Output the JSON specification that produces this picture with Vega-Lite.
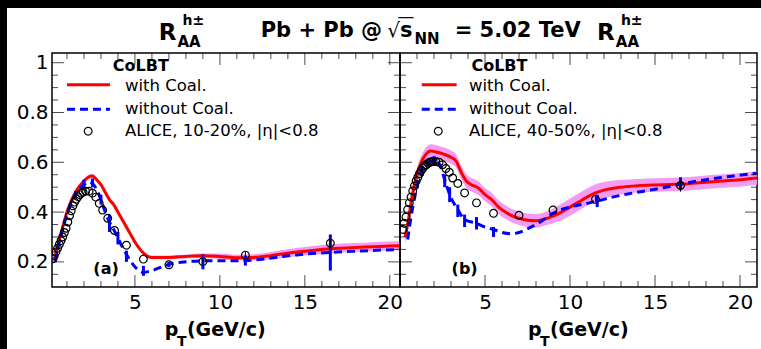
{
"$schema": "https://vega.github.io/schema/vega-lite/v6.json",
"padding": 0,
"background": "white",
"config": {"font": "DejaVu Sans", "text": {"color": "black"}, "axis": {"labelColor": "black", "labelFont": "DejaVu Sans"}},
"datasets": {
"one": [{}],
"xt": [{"v":1},{"v":2},{"v":3},{"v":4},{"v":5},{"v":6},{"v":7},{"v":8},{"v":9},{"v":10},{"v":11},{"v":12},{"v":13},{"v":14},{"v":15},{"v":16},{"v":17},{"v":18},{"v":19},{"v":20}],
"yt": [{"v":0.15},{"v":0.2},{"v":0.25},{"v":0.3},{"v":0.35},{"v":0.4},{"v":0.45},{"v":0.5},{"v":0.55},{"v":0.6},{"v":0.65},{"v":0.7},{"v":0.75},{"v":0.8},{"v":0.85},{"v":0.9},{"v":0.95},{"v":1.0}],
"redA": [{"x":0.25,"y":0.21,"lo":0.202,"hi":0.218},{"x":0.5,"y":0.275,"lo":0.267,"hi":0.283},{"x":0.75,"y":0.34,"lo":0.332,"hi":0.348},{"x":1.0,"y":0.4,"lo":0.392,"hi":0.408},{"x":1.25,"y":0.445,"lo":0.437,"hi":0.453},{"x":1.5,"y":0.48,"lo":0.472,"hi":0.488},{"x":1.75,"y":0.505,"lo":0.497,"hi":0.513},{"x":2.0,"y":0.525,"lo":0.517,"hi":0.533},{"x":2.25,"y":0.54,"lo":0.532,"hi":0.548},{"x":2.5,"y":0.545,"lo":0.537,"hi":0.553},{"x":2.75,"y":0.53,"lo":0.522,"hi":0.538},{"x":3.0,"y":0.51,"lo":0.502,"hi":0.518},{"x":3.25,"y":0.48,"lo":0.472,"hi":0.488},{"x":3.5,"y":0.45,"lo":0.442,"hi":0.458},{"x":3.75,"y":0.43,"lo":0.422,"hi":0.438},{"x":4.0,"y":0.4,"lo":0.392,"hi":0.408},{"x":4.25,"y":0.37,"lo":0.362,"hi":0.378},{"x":4.5,"y":0.34,"lo":0.332,"hi":0.348},{"x":4.75,"y":0.31,"lo":0.302,"hi":0.318},{"x":5.0,"y":0.28,"lo":0.272,"hi":0.288},{"x":5.25,"y":0.255,"lo":0.247,"hi":0.263},{"x":5.5,"y":0.235,"lo":0.227,"hi":0.243},{"x":5.75,"y":0.222,"lo":0.214,"hi":0.23},{"x":6.0,"y":0.218,"lo":0.21,"hi":0.226},{"x":7.0,"y":0.218,"lo":0.21,"hi":0.226},{"x":8.0,"y":0.222,"lo":0.214,"hi":0.23},{"x":9.0,"y":0.225,"lo":0.216,"hi":0.234},{"x":10.0,"y":0.222,"lo":0.21,"hi":0.234},{"x":11.0,"y":0.217,"lo":0.205,"hi":0.229},{"x":12.0,"y":0.218,"lo":0.205,"hi":0.231},{"x":13.0,"y":0.225,"lo":0.21,"hi":0.24},{"x":14.0,"y":0.235,"lo":0.219,"hi":0.251},{"x":15.0,"y":0.243,"lo":0.226,"hi":0.26},{"x":16.0,"y":0.25,"lo":0.232,"hi":0.268},{"x":17.0,"y":0.255,"lo":0.237,"hi":0.273},{"x":18.0,"y":0.258,"lo":0.24,"hi":0.276},{"x":19.0,"y":0.261,"lo":0.243,"hi":0.279},{"x":20.0,"y":0.264,"lo":0.246,"hi":0.282},{"x":20.6,"y":0.265,"lo":0.247,"hi":0.283}],
"blueA": [{"x":0.3,"y":0.2},{"x":0.5,"y":0.265},{"x":0.75,"y":0.33},{"x":1.0,"y":0.39},{"x":1.25,"y":0.435},{"x":1.5,"y":0.47},{"x":1.75,"y":0.495},{"x":2.0,"y":0.51},{"x":2.25,"y":0.52},{"x":2.5,"y":0.515},{"x":2.75,"y":0.49},{"x":3.0,"y":0.45},{"x":3.25,"y":0.4},{"x":3.5,"y":0.36},{"x":3.75,"y":0.33},{"x":4.0,"y":0.295},{"x":4.5,"y":0.23},{"x":5.0,"y":0.18},{"x":5.5,"y":0.158},{"x":6.0,"y":0.165},{"x":7.0,"y":0.19},{"x":8.0,"y":0.2},{"x":9.0,"y":0.204},{"x":10.0,"y":0.204},{"x":11.5,"y":0.205},{"x":13.0,"y":0.215},{"x":14.5,"y":0.228},{"x":16.5,"y":0.238},{"x":18.0,"y":0.243},{"x":20.6,"y":0.25}],
"blueErrA": [{"x":1.5,"lo":0.455,"hi":0.485},{"x":2.0,"lo":0.49,"hi":0.53},{"x":2.5,"lo":0.5,"hi":0.535},{"x":3.0,"lo":0.43,"hi":0.47},{"x":3.5,"lo":0.32,"hi":0.39},{"x":4.0,"lo":0.27,"hi":0.32},{"x":4.5,"lo":0.2,"hi":0.245},{"x":5.5,"lo":0.144,"hi":0.184},{"x":7.0,"lo":0.178,"hi":0.2},{"x":9.0,"lo":0.17,"hi":0.23},{"x":11.5,"lo":0.185,"hi":0.225},{"x":16.5,"lo":0.165,"hi":0.31}],
"aliceA": [{"x":0.175,"y":0.212},{"x":0.25,"y":0.225},{"x":0.35,"y":0.24},{"x":0.45,"y":0.255},{"x":0.55,"y":0.27},{"x":0.65,"y":0.285},{"x":0.75,"y":0.3},{"x":0.85,"y":0.318},{"x":0.95,"y":0.335},{"x":1.05,"y":0.36},{"x":1.15,"y":0.385},{"x":1.25,"y":0.405},{"x":1.35,"y":0.425},{"x":1.45,"y":0.44},{"x":1.55,"y":0.452},{"x":1.65,"y":0.462},{"x":1.75,"y":0.47},{"x":1.85,"y":0.476},{"x":1.95,"y":0.48},{"x":2.1,"y":0.484},{"x":2.3,"y":0.484},{"x":2.5,"y":0.476},{"x":2.7,"y":0.46},{"x":2.9,"y":0.435},{"x":3.1,"y":0.408},{"x":3.4,"y":0.375},{"x":3.8,"y":0.326},{"x":4.5,"y":0.267},{"x":5.5,"y":0.211},{"x":7.0,"y":0.188},{"x":9.0,"y":0.201},{"x":11.5,"y":0.227},{"x":16.5,"y":0.275}],
"aliceErrA": [{"x":9.0,"lo":0.19,"hi":0.212},{"x":11.5,"lo":0.215,"hi":0.24},{"x":16.5,"lo":0.255,"hi":0.295}],
"redB": [{"x":0.3,"y":0.3,"lo":0.273,"hi":0.327},{"x":0.5,"y":0.37,"lo":0.343,"hi":0.397},{"x":0.7,"y":0.46,"lo":0.433,"hi":0.487},{"x":1.0,"y":0.55,"lo":0.523,"hi":0.577},{"x":1.25,"y":0.6,"lo":0.573,"hi":0.627},{"x":1.5,"y":0.63,"lo":0.603,"hi":0.657},{"x":1.8,"y":0.645,"lo":0.618,"hi":0.672},{"x":2.2,"y":0.64,"lo":0.613,"hi":0.667},{"x":2.6,"y":0.632,"lo":0.605,"hi":0.659},{"x":3.0,"y":0.62,"lo":0.593,"hi":0.647},{"x":3.3,"y":0.605,"lo":0.578,"hi":0.632},{"x":3.6,"y":0.56,"lo":0.533,"hi":0.587},{"x":3.9,"y":0.525,"lo":0.498,"hi":0.552},{"x":4.2,"y":0.51,"lo":0.483,"hi":0.537},{"x":4.6,"y":0.497,"lo":0.47,"hi":0.524},{"x":5.0,"y":0.47,"lo":0.443,"hi":0.497},{"x":5.4,"y":0.45,"lo":0.423,"hi":0.477},{"x":5.8,"y":0.42,"lo":0.393,"hi":0.447},{"x":6.2,"y":0.4,"lo":0.373,"hi":0.427},{"x":6.6,"y":0.385,"lo":0.358,"hi":0.412},{"x":7.0,"y":0.375,"lo":0.348,"hi":0.402},{"x":7.5,"y":0.367,"lo":0.34,"hi":0.394},{"x":8.0,"y":0.365,"lo":0.338,"hi":0.392},{"x":8.5,"y":0.372,"lo":0.345,"hi":0.399},{"x":9.0,"y":0.384,"lo":0.355,"hi":0.413},{"x":9.5,"y":0.4,"lo":0.367,"hi":0.433},{"x":10.0,"y":0.42,"lo":0.385,"hi":0.455},{"x":10.5,"y":0.44,"lo":0.405,"hi":0.475},{"x":11.0,"y":0.46,"lo":0.425,"hi":0.495},{"x":11.5,"y":0.477,"lo":0.442,"hi":0.512},{"x":12.0,"y":0.488,"lo":0.455,"hi":0.521},{"x":13.0,"y":0.5,"lo":0.471,"hi":0.529},{"x":14.0,"y":0.506,"lo":0.479,"hi":0.533},{"x":15.0,"y":0.509,"lo":0.482,"hi":0.536},{"x":16.0,"y":0.511,"lo":0.484,"hi":0.538},{"x":17.0,"y":0.514,"lo":0.487,"hi":0.541},{"x":18.0,"y":0.52,"lo":0.493,"hi":0.547},{"x":19.0,"y":0.525,"lo":0.498,"hi":0.552},{"x":20.0,"y":0.53,"lo":0.503,"hi":0.557},{"x":21.0,"y":0.537,"lo":0.51,"hi":0.564}],
"blueB": [{"x":0.45,"y":0.29},{"x":0.75,"y":0.42},{"x":1.0,"y":0.5},{"x":1.25,"y":0.565},{"x":1.65,"y":0.6},{"x":2.0,"y":0.605},{"x":2.3,"y":0.595},{"x":2.63,"y":0.53},{"x":2.92,"y":0.47},{"x":3.4,"y":0.41},{"x":3.8,"y":0.37},{"x":4.5,"y":0.355},{"x":5.0,"y":0.34},{"x":5.5,"y":0.33},{"x":6.0,"y":0.318},{"x":6.5,"y":0.313},{"x":7.0,"y":0.318},{"x":7.5,"y":0.333},{"x":8.0,"y":0.35},{"x":8.5,"y":0.372},{"x":9.0,"y":0.395},{"x":10.0,"y":0.42},{"x":11.0,"y":0.435},{"x":11.6,"y":0.444},{"x":12.5,"y":0.46},{"x":13.5,"y":0.474},{"x":14.5,"y":0.486},{"x":15.5,"y":0.498},{"x":16.5,"y":0.512},{"x":18.0,"y":0.53},{"x":19.5,"y":0.544},{"x":21.0,"y":0.556}],
"blueErrB": [{"x":1.3,"lo":0.545,"hi":0.585},{"x":2.0,"lo":0.585,"hi":0.625},{"x":2.63,"lo":0.5,"hi":0.55},{"x":2.92,"lo":0.44,"hi":0.5},{"x":3.4,"lo":0.38,"hi":0.43},{"x":3.8,"lo":0.34,"hi":0.39},{"x":4.5,"lo":0.33,"hi":0.38},{"x":5.5,"lo":0.3,"hi":0.34},{"x":11.6,"lo":0.42,"hi":0.47},{"x":16.5,"lo":0.49,"hi":0.54}],
"aliceB": [{"x":0.175,"y":0.33},{"x":0.25,"y":0.355},{"x":0.35,"y":0.38},{"x":0.45,"y":0.41},{"x":0.55,"y":0.437},{"x":0.65,"y":0.46},{"x":0.75,"y":0.485},{"x":0.85,"y":0.505},{"x":0.95,"y":0.525},{"x":1.05,"y":0.54},{"x":1.15,"y":0.555},{"x":1.25,"y":0.567},{"x":1.35,"y":0.577},{"x":1.45,"y":0.585},{"x":1.55,"y":0.59},{"x":1.65,"y":0.596},{"x":1.75,"y":0.6},{"x":1.85,"y":0.602},{"x":1.95,"y":0.603},{"x":2.1,"y":0.603},{"x":2.3,"y":0.6},{"x":2.5,"y":0.59},{"x":2.7,"y":0.575},{"x":2.9,"y":0.56},{"x":3.1,"y":0.537},{"x":3.4,"y":0.515},{"x":3.8,"y":0.477},{"x":4.5,"y":0.437},{"x":5.5,"y":0.395},{"x":7.0,"y":0.387},{"x":9.0,"y":0.408},{"x":11.5,"y":0.451},{"x":16.5,"y":0.507}],
"aliceErrB": [{"x":11.5,"lo":0.44,"hi":0.463},{"x":16.5,"lo":0.482,"hi":0.532}]
},
"bounds": "flush",
"spacing": 0,
"hconcat": [
{"width": 7, "height": 349, "view": {"fill": "black", "stroke": null}, "data": {"name": "one"}, "mark": {"type": "point", "opacity": 0}},
{"vconcat": [
 {"width": 754, "height": 8, "view": {"fill": "black", "stroke": null}, "data": {"name": "one"}, "mark": {"type": "point", "opacity": 0}},
 {"hconcat": [
  {"width": 45, "height": 234, "view": {"stroke": null}, "data": {"name": "one"}, "mark": {"type": "point", "opacity": 0}},
  {"width": 348, "height": 234, "view": {"stroke": "black", "strokeWidth": 1.5},
   "layer": [
    {"data": {"name": "redA"}, "mark": {"type": "area", "color": "#f39cf3", "clip": true, "interpolate": "monotone"},
     "encoding": {
      "x": {"field": "x", "type": "quantitative", "scale": {"domain": [0.12, 20.6], "nice": false, "zero": false}, "axis": {"values": [5, 10, 15, 20], "format": "d", "title": null, "ticks": false, "domain": false, "grid": false, "labelFontSize": 20, "labelPadding": 5}},
      "y": {"field": "lo", "type": "quantitative", "scale": {"domain": [0.099, 1.039], "nice": false, "zero": false}, "axis": {"values": [0.2, 0.4, 0.6, 0.8, 1], "title": null, "ticks": false, "domain": false, "grid": false, "labelFontSize": 20, "labelPadding": 4, "labelExpr": "datum.value == 1 ? '1' : format(datum.value, '.1f')"}},
      "y2": {"field": "hi"}}},
    {"data": {"name": "redA"}, "mark": {"type": "line", "color": "#ff0000", "strokeWidth": 3, "clip": true, "interpolate": "monotone"},
     "encoding": {"x": {"field": "x", "type": "quantitative"}, "y": {"field": "y", "type": "quantitative"}}},
    {"data": {"name": "blueA"}, "mark": {"type": "line", "color": "#0000ff", "strokeWidth": 3, "strokeDash": [8, 5], "clip": true, "interpolate": "monotone"},
     "encoding": {"x": {"field": "x", "type": "quantitative"}, "y": {"field": "y", "type": "quantitative"}}},
    {"data": {"name": "blueErrA"}, "mark": {"type": "rule", "color": "#0000ff", "strokeWidth": 3, "clip": true},
     "encoding": {"x": {"field": "x", "type": "quantitative"}, "y": {"field": "lo", "type": "quantitative"}, "y2": {"field": "hi"}}},
    {"data": {"name": "aliceErrA"}, "mark": {"type": "rule", "color": "black", "strokeWidth": 1, "clip": true},
     "encoding": {"x": {"field": "x", "type": "quantitative"}, "y": {"field": "lo", "type": "quantitative"}, "y2": {"field": "hi"}}},
    {"data": {"name": "aliceA"}, "mark": {"type": "point", "shape": "circle", "filled": false, "color": "black", "size": 60, "strokeWidth": 1.2, "opacity": 1, "clip": true},
     "encoding": {"x": {"field": "x", "type": "quantitative"}, "y": {"field": "y", "type": "quantitative"}}},
    {"data": {"name": "xt"}, "mark": {"type": "tick", "orient": "vertical", "color": "black", "thickness": 1, "clip": true},
     "encoding": {"x": {"field": "v", "type": "quantitative"}, "y": {"datum": 0.099}, "size": {"condition": {"test": "datum.v % 5 == 0", "value": 24}, "value": 12}}},
    {"data": {"name": "xt"}, "mark": {"type": "tick", "orient": "vertical", "color": "black", "thickness": 1, "clip": true},
     "encoding": {"x": {"field": "v", "type": "quantitative"}, "y": {"datum": 1.039}, "size": {"condition": {"test": "datum.v % 5 == 0", "value": 24}, "value": 12}}},
    {"data": {"name": "yt"}, "mark": {"type": "tick", "orient": "horizontal", "color": "black", "thickness": 1, "clip": true},
     "encoding": {"y": {"field": "v", "type": "quantitative"}, "x": {"datum": 0.12}, "size": {"condition": {"test": "abs(datum.v*5 - round(datum.v*5)) < 0.001", "value": 24}, "value": 12}}},
    {"data": {"name": "yt"}, "mark": {"type": "tick", "orient": "horizontal", "color": "black", "thickness": 1, "clip": true},
     "encoding": {"y": {"field": "v", "type": "quantitative"}, "x": {"datum": 20.6}, "size": {"condition": {"test": "abs(datum.v*5 - round(datum.v*5)) < 0.001", "value": 24}, "value": 12}}},
    {"data": {"name": "one"}, "mark": {"type": "rule", "color": "#ff0000", "strokeWidth": 3},
     "encoding": {"x": {"datum": 1.0}, "x2": {"datum": 3.53}, "y": {"datum": 0.911}}},
    {"data": {"name": "one"}, "mark": {"type": "rule", "color": "#0000ff", "strokeWidth": 3, "strokeDash": [8, 5]},
     "encoding": {"x": {"datum": 1.0}, "x2": {"datum": 3.53}, "y": {"datum": 0.813}}},
    {"data": {"name": "one"}, "mark": {"type": "point", "shape": "circle", "filled": false, "color": "black", "size": 60, "strokeWidth": 1.2, "opacity": 1},
     "encoding": {"x": {"datum": 2.25}, "y": {"datum": 0.725}}},
    {"data": {"name": "one"}, "mark": {"type": "text", "fontSize": 16, "fontWeight": "bold", "align": "left", "baseline": "middle"},
     "encoding": {"x": {"datum": 3.7}, "y": {"datum": 0.987}, "text": {"value": "CoLBT"}}},
    {"data": {"name": "one"}, "mark": {"type": "text", "fontSize": 16.5, "align": "left", "baseline": "middle"},
     "encoding": {"x": {"datum": 4.41}, "y": {"datum": 0.908}, "text": {"value": "with Coal."}}},
    {"data": {"name": "one"}, "mark": {"type": "text", "fontSize": 16.5, "align": "left", "baseline": "middle"},
     "encoding": {"x": {"datum": 4.41}, "y": {"datum": 0.813}, "text": {"value": "without Coal."}}},
    {"data": {"name": "one"}, "mark": {"type": "text", "fontSize": 16.5, "align": "left", "baseline": "middle"},
     "encoding": {"x": {"datum": 4.41}, "y": {"datum": 0.725}, "text": {"value": "ALICE, 10-20%, |η|<0.8"}}},
    {"data": {"name": "one"}, "mark": {"type": "text", "fontSize": 16, "fontWeight": "bold", "align": "center", "baseline": "middle"},
     "encoding": {"x": {"datum": 3.3}, "y": {"datum": 0.171}, "text": {"value": "(a)"}}},
    {"data": {"name": "one"}, "mark": {"type": "text", "fontSize": 19, "fontWeight": "bold", "align": "left", "baseline": "alphabetic"},
     "encoding": {"x": {"datum": 6.76}, "y": {"datum": -0.097}, "text": {"value": "p"}}},
    {"data": {"name": "one"}, "mark": {"type": "text", "fontSize": 14, "fontWeight": "bold", "align": "left", "baseline": "alphabetic"},
     "encoding": {"x": {"datum": 7.47}, "y": {"datum": -0.137}, "text": {"value": "T"}}},
    {"data": {"name": "one"}, "mark": {"type": "text", "fontSize": 19, "fontWeight": "bold", "align": "left", "baseline": "alphabetic"},
     "encoding": {"x": {"datum": 8.06}, "y": {"datum": -0.097}, "text": {"value": "(GeV/c)"}}},
    {"data": {"name": "one"}, "mark": {"type": "text", "fontSize": 23, "fontWeight": "bold", "align": "left", "baseline": "alphabetic"},
     "encoding": {"x": {"datum": 6.4}, "y": {"datum": 1.091}, "text": {"value": "R"}}},
    {"data": {"name": "one"}, "mark": {"type": "text", "fontSize": 14, "fontWeight": "bold", "align": "left", "baseline": "alphabetic"},
     "encoding": {"x": {"datum": 7.8}, "y": {"datum": 1.151}, "text": {"value": "h±"}}},
    {"data": {"name": "one"}, "mark": {"type": "text", "fontSize": 15, "fontWeight": "bold", "align": "left", "baseline": "alphabetic"},
     "encoding": {"x": {"datum": 7.5}, "y": {"datum": 1.063}, "text": {"value": "AA"}}},
    {"data": {"name": "one"}, "mark": {"type": "text", "fontSize": 21, "fontWeight": "bold", "align": "left", "baseline": "alphabetic"},
     "encoding": {"x": {"datum": 12.4}, "y": {"datum": 1.103}, "text": {"value": "Pb + Pb @"}}},
    {"data": {"name": "one"}, "mark": {"type": "text", "fontSize": 20, "align": "left", "baseline": "alphabetic"},
     "encoding": {"x": {"datum": 19.85}, "y": {"datum": 1.103}, "text": {"value": "√"}}},
    {"data": {"name": "one"}, "mark": {"type": "rule", "color": "black", "strokeWidth": 1.2},
     "encoding": {"x": {"datum": 20.5}, "x2": {"datum": 21.4}, "y": {"datum": 1.181}}},
    {"data": {"name": "one"}, "mark": {"type": "text", "fontSize": 21, "fontWeight": "bold", "align": "left", "baseline": "alphabetic"},
     "encoding": {"x": {"datum": 20.6}, "y": {"datum": 1.103}, "text": {"value": "s"}}},
    {"data": {"name": "one"}, "mark": {"type": "text", "fontSize": 15, "fontWeight": "bold", "align": "left", "baseline": "alphabetic"},
     "encoding": {"x": {"datum": 21.45}, "y": {"datum": 1.075}, "text": {"value": "NN"}}},
    {"data": {"name": "one"}, "mark": {"type": "text", "fontSize": 21, "fontWeight": "bold", "align": "left", "baseline": "alphabetic"},
     "encoding": {"x": {"datum": 23.82}, "y": {"datum": 1.103}, "text": {"value": "= 5.02 TeV"}}},
    {"data": {"name": "one"}, "mark": {"type": "text", "fontSize": 23, "fontWeight": "bold", "align": "left", "baseline": "alphabetic"},
     "encoding": {"x": {"datum": 32.2}, "y": {"datum": 1.091}, "text": {"value": "R"}}},
    {"data": {"name": "one"}, "mark": {"type": "text", "fontSize": 14, "fontWeight": "bold", "align": "left", "baseline": "alphabetic"},
     "encoding": {"x": {"datum": 33.6}, "y": {"datum": 1.151}, "text": {"value": "h±"}}},
    {"data": {"name": "one"}, "mark": {"type": "text", "fontSize": 15, "fontWeight": "bold", "align": "left", "baseline": "alphabetic"},
     "encoding": {"x": {"datum": 33.3}, "y": {"datum": 1.063}, "text": {"value": "AA"}}}
   ]},
  {"width": 357, "height": 234, "view": {"stroke": "black", "strokeWidth": 1.5},
   "layer": [
    {"data": {"name": "redB"}, "mark": {"type": "area", "color": "#f39cf3", "clip": true, "interpolate": "monotone"},
     "encoding": {
      "x": {"field": "x", "type": "quantitative", "scale": {"domain": [0, 21], "nice": false, "zero": false}, "axis": {"values": [5, 10, 15, 20], "format": "d", "title": null, "ticks": false, "domain": false, "grid": false, "labelFontSize": 20, "labelPadding": 5}},
      "y": {"field": "lo", "type": "quantitative", "scale": {"domain": [0.099, 1.039], "nice": false, "zero": false}, "axis": null},
      "y2": {"field": "hi"}}},
    {"data": {"name": "redB"}, "mark": {"type": "line", "color": "#ff0000", "strokeWidth": 3, "clip": true, "interpolate": "monotone"},
     "encoding": {"x": {"field": "x", "type": "quantitative"}, "y": {"field": "y", "type": "quantitative"}}},
    {"data": {"name": "blueB"}, "mark": {"type": "line", "color": "#0000ff", "strokeWidth": 3, "strokeDash": [8, 5], "clip": true, "interpolate": "monotone"},
     "encoding": {"x": {"field": "x", "type": "quantitative"}, "y": {"field": "y", "type": "quantitative"}}},
    {"data": {"name": "blueErrB"}, "mark": {"type": "rule", "color": "#0000ff", "strokeWidth": 3, "clip": true},
     "encoding": {"x": {"field": "x", "type": "quantitative"}, "y": {"field": "lo", "type": "quantitative"}, "y2": {"field": "hi"}}},
    {"data": {"name": "aliceErrB"}, "mark": {"type": "rule", "color": "black", "strokeWidth": 1, "clip": true},
     "encoding": {"x": {"field": "x", "type": "quantitative"}, "y": {"field": "lo", "type": "quantitative"}, "y2": {"field": "hi"}}},
    {"data": {"name": "aliceB"}, "mark": {"type": "point", "shape": "circle", "filled": false, "color": "black", "size": 60, "strokeWidth": 1.2, "opacity": 1, "clip": true},
     "encoding": {"x": {"field": "x", "type": "quantitative"}, "y": {"field": "y", "type": "quantitative"}}},
    {"data": {"name": "xt"}, "mark": {"type": "tick", "orient": "vertical", "color": "black", "thickness": 1, "clip": true},
     "encoding": {"x": {"field": "v", "type": "quantitative"}, "y": {"datum": 0.099}, "size": {"condition": {"test": "datum.v % 5 == 0", "value": 24}, "value": 12}}},
    {"data": {"name": "xt"}, "mark": {"type": "tick", "orient": "vertical", "color": "black", "thickness": 1, "clip": true},
     "encoding": {"x": {"field": "v", "type": "quantitative"}, "y": {"datum": 1.039}, "size": {"condition": {"test": "datum.v % 5 == 0", "value": 24}, "value": 12}}},
    {"data": {"name": "yt"}, "mark": {"type": "tick", "orient": "horizontal", "color": "black", "thickness": 1, "clip": true},
     "encoding": {"y": {"field": "v", "type": "quantitative"}, "x": {"datum": 0}, "size": {"condition": {"test": "abs(datum.v*5 - round(datum.v*5)) < 0.001", "value": 24}, "value": 12}}},
    {"data": {"name": "yt"}, "mark": {"type": "tick", "orient": "horizontal", "color": "black", "thickness": 1, "clip": true},
     "encoding": {"y": {"field": "v", "type": "quantitative"}, "x": {"datum": 21}, "size": {"condition": {"test": "abs(datum.v*5 - round(datum.v*5)) < 0.001", "value": 24}, "value": 12}}},
    {"data": {"name": "one"}, "mark": {"type": "rule", "color": "#ff0000", "strokeWidth": 3},
     "encoding": {"x": {"datum": 1.28}, "x2": {"datum": 3.33}, "y": {"datum": 0.911}}},
    {"data": {"name": "one"}, "mark": {"type": "rule", "color": "#0000ff", "strokeWidth": 3, "strokeDash": [8, 5]},
     "encoding": {"x": {"datum": 1.28}, "x2": {"datum": 3.33}, "y": {"datum": 0.813}}},
    {"data": {"name": "one"}, "mark": {"type": "point", "shape": "circle", "filled": false, "color": "black", "size": 60, "strokeWidth": 1.2, "opacity": 1},
     "encoding": {"x": {"datum": 2.25}, "y": {"datum": 0.725}}},
    {"data": {"name": "one"}, "mark": {"type": "text", "fontSize": 16, "fontWeight": "bold", "align": "left", "baseline": "middle"},
     "encoding": {"x": {"datum": 4.2}, "y": {"datum": 0.987}, "text": {"value": "CoLBT"}}},
    {"data": {"name": "one"}, "mark": {"type": "text", "fontSize": 16.5, "align": "left", "baseline": "middle"},
     "encoding": {"x": {"datum": 4.06}, "y": {"datum": 0.908}, "text": {"value": "with Coal."}}},
    {"data": {"name": "one"}, "mark": {"type": "text", "fontSize": 16.5, "align": "left", "baseline": "middle"},
     "encoding": {"x": {"datum": 4.06}, "y": {"datum": 0.813}, "text": {"value": "without Coal."}}},
    {"data": {"name": "one"}, "mark": {"type": "text", "fontSize": 16.5, "align": "left", "baseline": "middle"},
     "encoding": {"x": {"datum": 4.06}, "y": {"datum": 0.725}, "text": {"value": "ALICE, 40-50%, |η|<0.8"}}},
    {"data": {"name": "one"}, "mark": {"type": "text", "fontSize": 16, "fontWeight": "bold", "align": "center", "baseline": "middle"},
     "encoding": {"x": {"datum": 3.8}, "y": {"datum": 0.171}, "text": {"value": "(b)"}}},
    {"data": {"name": "one"}, "mark": {"type": "text", "fontSize": 19, "fontWeight": "bold", "align": "left", "baseline": "alphabetic"},
     "encoding": {"x": {"datum": 7.53}, "y": {"datum": -0.097}, "text": {"value": "p"}}},
    {"data": {"name": "one"}, "mark": {"type": "text", "fontSize": 14, "fontWeight": "bold", "align": "left", "baseline": "alphabetic"},
     "encoding": {"x": {"datum": 8.24}, "y": {"datum": -0.137}, "text": {"value": "T"}}},
    {"data": {"name": "one"}, "mark": {"type": "text", "fontSize": 19, "fontWeight": "bold", "align": "left", "baseline": "alphabetic"},
     "encoding": {"x": {"datum": 8.82}, "y": {"datum": -0.097}, "text": {"value": "(GeV/c)"}}}
   ]}
 ], "spacing": 0, "bounds": "flush"}
], "spacing": 45, "bounds": "flush"}
]
}
